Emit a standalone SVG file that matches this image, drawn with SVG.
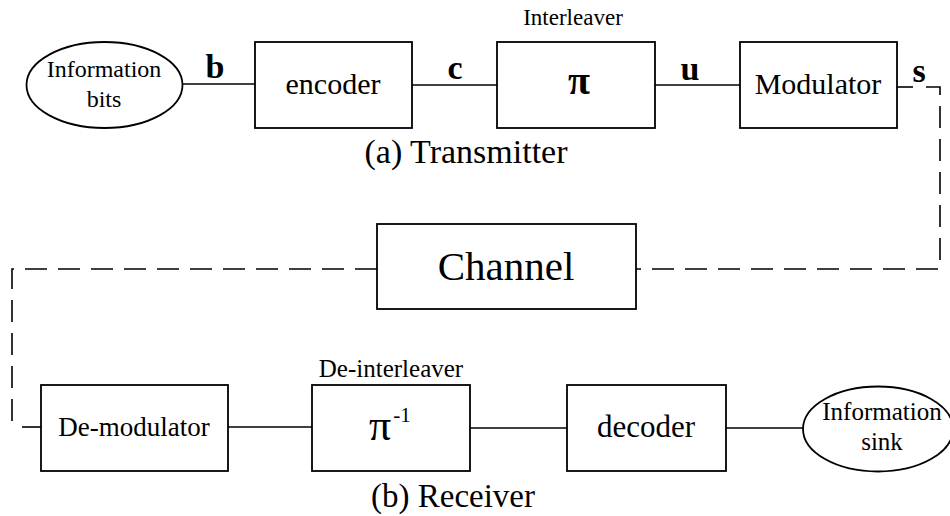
<svg xmlns="http://www.w3.org/2000/svg" width="950" height="516" viewBox="0 0 950 516">
<style>
.box{fill:#fff;stroke:#000;stroke-width:1.8}
.ln{fill:none;stroke:#000;stroke-width:1.6}
.dash{fill:none;stroke:#000;stroke-width:1.6;stroke-dasharray:22 11}
text{font-family:"Liberation Serif","Times New Roman",serif;fill:#000;text-anchor:middle}
.lbl{font-weight:bold;font-size:34px}
</style>
<rect width="950" height="516" fill="#fff"/>
<g id="connectors">
<line class="ln" x1="183" y1="84" x2="255" y2="84"/>
<line class="ln" x1="412" y1="85" x2="497" y2="85"/>
<line class="ln" x1="655" y1="85" x2="740" y2="85"/>
<line class="ln" x1="897" y1="87" x2="913" y2="87"/>
<path class="dash" d="M926,87 H940 V269 H636"/>
<path class="dash" d="M377,269 H12 V427"/>
<line class="ln" x1="22" y1="427" x2="41" y2="427"/>
<line class="ln" x1="228" y1="427" x2="312" y2="427"/>
<line class="ln" x1="470" y1="428" x2="567" y2="428"/>
<line class="ln" x1="726" y1="428" x2="803" y2="428"/>
<text class="lbl" x="215" y="78">b</text>
<text class="lbl" x="455" y="79">c</text>
<text class="lbl" x="690" y="80">u</text>
<text class="lbl" x="919" y="82">s</text>
</g>
<g id="info-bits">
<ellipse class="box" cx="104.5" cy="85" rx="78" ry="43"/>
<text x="104" y="77" font-size="24">Information</text>
<text x="104" y="107" font-size="24">bits</text>
</g>
<g id="encoder">
<rect class="box" x="255" y="42" width="157" height="86"/>
<text x="333" y="94" font-size="30">encoder</text>
</g>
<g id="interleaver">
<text x="573" y="25" font-size="23">Interleaver</text>
<rect class="box" x="497" y="42" width="158" height="86"/>
<text x="579" y="94" font-size="40" font-weight="bold">π</text>
</g>
<g id="modulator">
<rect class="box" x="740" y="42" width="157" height="86"/>
<text x="818" y="94" font-size="30">Modulator</text>
</g>
<g id="transmitter-caption">
<text x="466" y="163" font-size="34">(a) Transmitter</text>
</g>
<g id="channel">
<rect class="box" x="377" y="224" width="259" height="85"/>
<text x="506" y="280" font-size="41">Channel</text>
</g>
<g id="demodulator">
<rect class="box" x="41" y="385" width="187" height="86"/>
<text x="134" y="436" font-size="27">De-modulator</text>
</g>
<g id="deinterleaver">
<text x="391" y="377" font-size="25">De-interleaver</text>
<rect class="box" x="312" y="385" width="158" height="86"/>
<text x="380" y="440" font-size="44">π</text>
<text x="402" y="422" font-size="21">-1</text>
</g>
<g id="decoder">
<rect class="box" x="567" y="385" width="159" height="86"/>
<text x="646" y="437" font-size="31">decoder</text>
</g>
<g id="info-sink">
<ellipse class="box" cx="878" cy="429" rx="75" ry="42.5"/>
<text x="882" y="420" font-size="25">Information</text>
<text x="882" y="450" font-size="25">sink</text>
</g>
<g id="receiver-caption">
<text x="453" y="507" font-size="33">(b) Receiver</text>
</g>
</svg>
